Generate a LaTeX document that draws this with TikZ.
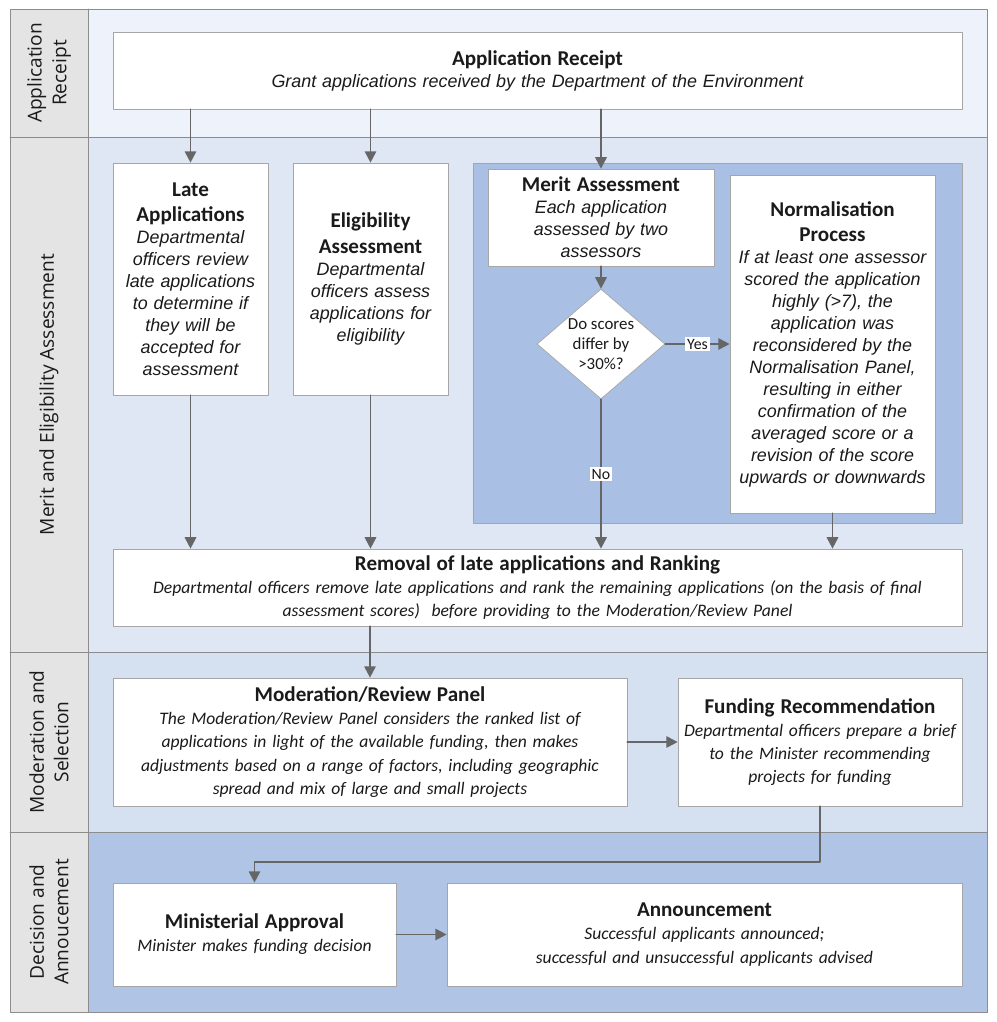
\documentclass[tikz,border=0pt]{standalone}
\usepackage{fontspec}
\setmainfont{Carlito}
\newfontfamily\arialfont{Liberation Sans}
\newfontfamily\lanefont{Open Sans}
\usetikzlibrary{arrows.meta,shapes.geometric}

\definecolor{lanegray}{HTML}{E4E4E4}
\definecolor{laneA}{HTML}{EEF3FB}
\definecolor{laneB}{HTML}{E0E7F4}
\definecolor{laneC}{HTML}{D5E1F1}
\definecolor{laneD}{HTML}{B0C5E5}
\definecolor{meritbg}{HTML}{A9BFE3}
\definecolor{frame}{HTML}{8C8C8C}
\definecolor{boxline}{HTML}{A6A6A6}
\definecolor{arrowgray}{HTML}{666666}
\definecolor{ink}{HTML}{1A1A1A}

\newcommand{\ttlfont}{\bfseries\fontsize{12}{14.5}\selectfont}
\newcommand{\arialit}{\arialfont\itshape\fontsize{10.2}{12.5}\selectfont}
\newcommand{\carlit}{\itshape\fontsize{10}{13.2}\selectfont}

\tikzset{
  stagebox/.style={draw=boxline, fill=white, text=ink, align=center, inner sep=2pt},
  lanelabel/.style={rotate=90, align=center, text=ink, font=\lanefont\fontsize{10.9}{14}\selectfont},
  link/.style={draw=arrowgray, line width=1.1pt, -{Triangle[length=6.5pt,width=6.5pt]}},
  answer/.style={fill=white, inner sep=1pt, text=ink, font=\fontsize{9}{10}\selectfont},
}

\begin{document}
\begin{tikzpicture}[line cap=round, line join=round, x=0.02cm, y=-0.02cm]
                \useasboundingbox (0,0) rectangle (997,1022);
                % swim lanes
                \fill[lanegray] (10,9) rectangle (88,1012);
                \foreach \ya/\yb/\col in {9/137/laneA, 137/652/laneB, 652/832/laneC, 832/1012/laneD}
                    \fill[\col] (88,\ya) rectangle (987,\yb);
                \draw[frame] (10,9) rectangle (987,1012) (88,9) -- (88,1012);
                \foreach \y in {137, 652, 832}
                    \draw[frame] (10,\y) -- (987,\y);
                \node[lanelabel] (laneRcpt) at (49,73) {Application\\Receipt};
                \node[lanelabel] (laneMerit) at (49,394.5) {Merit and Eligibility Assessment};
                \node[lanelabel] (laneMod) at (49,742) {Moderation and\\Selection};
                \node[lanelabel] (laneDec) at (49,922) {Decision and\\Annoucement};
                \draw[boxline, fill=meritbg] (473,163) rectangle (962,523);

                % stages
                \node[stagebox, minimum width=16.98cm, minimum height=1.54cm, text width=16.8cm] (rcpt) at (537.5,70.5)
                    {{\ttlfont Application Receipt\par}{\arialit Grant applications received by the Department of the Environment\par}};
                \node[stagebox, minimum width=3.1cm, minimum height=4.64cm, text width=2.95cm] (late) at (190.5,279)
                    {{\ttlfont Late\\Applications\par}{\arialit Departmental\\officers review\\late applications\\to determine if\\they will be\\accepted for\\assessment\par}};
                \node[stagebox, minimum width=3.1cm, minimum height=4.64cm, text width=2.95cm] (elig) at (370.5,279)
                    {{\ttlfont Eligibility\\Assessment\par}{\arialit Departmental\\officers assess\\applications for\\eligibility\par}};
                \node[stagebox, minimum width=4.52cm, minimum height=1.94cm, text width=4.35cm] (merit) at (601,217.5)
                    {{\ttlfont Merit Assessment\par}{\arialit Each application\\assessed by two\\assessors\par}};
                \node[stagebox, minimum width=4.1cm, minimum height=6.76cm, text width=3.95cm] (norm) at (832.5,344)
                    {{\ttlfont Normalisation\\Process\par}{\arialit If at least one assessor\\scored the application\\highly (>7), the\\application was\\reconsidered by the\\Normalisation Panel,\\resulting in either\\confirmation of the\\averaged score or a\\revision of the score\\upwards or downwards\par}};
                \node[stagebox, shape=diamond, aspect=1.16, inner sep=0pt, minimum width=2.56cm, minimum height=2.2cm,
                      font=\fontsize{9.6}{11.3}\selectfont] (dec) at (601,344) {Do scores\\differ by\\>30\%?};
                \node[stagebox, minimum width=16.98cm, minimum height=1.54cm, text width=16.8cm] (rmv) at (537.5,587.5)
                    {{\ttlfont Removal of late applications and Ranking\par}{\carlit Departmental officers remove late applications and rank the remaining applications (on the basis of final\\assessment scores) \ before providing to the Moderation/Review Panel\par}};
                \node[stagebox, minimum width=10.28cm, minimum height=2.56cm, text width=10.1cm] (mod) at (370,742)
                    {{\ttlfont Moderation/Review Panel\par}{\carlit The Moderation/Review Panel considers the ranked list of\\applications in light of the available funding, then makes\\adjustments based on a range of factors, including geographic\\spread and mix of large and small projects\par}};
                \node[stagebox, minimum width=5.68cm, minimum height=2.56cm, text width=5.5cm] (fund) at (820,742)
                    {{\ttlfont Funding Recommendation\par}{\carlit Departmental officers prepare a brief\\to the Minister recommending\\projects for funding\par}};
                \node[stagebox, minimum width=5.66cm, minimum height=2.06cm, text width=5.5cm] (mini) at (254.5,934.5)
                    {{\ttlfont Ministerial Approval\par}{\carlit Minister makes funding decision\par}};
                \node[stagebox, minimum width=10.3cm, minimum height=2.06cm, text width=10.1cm] (ann) at (704.5,934.5)
                    {{\ttlfont Announcement\par}{\carlit Successful applicants announced;\\successful and unsuccessful applicants advised\par}};

                % flow
                \draw[link] (rcpt.south -| late.north) -- (late.north);
                \draw[link] (rcpt.south -| elig.north) -- (elig.north);
                \draw[link] (rcpt.south -| merit.north) -- (merit.north);
                \draw[link] (merit.south) -- (dec.north);
                \draw[link] (dec.east) -- node[answer] {Yes} (dec.east -| norm.west);
                \draw[link] (dec.south) -- node[answer] {No} (dec.south |- rmv.north);
                \draw[link] (late.south) -- (late.south |- rmv.north);
                \draw[link] (elig.south) -- (elig.south |- rmv.north);
                \draw[link] (norm.south) -- (norm.south |- rmv.north);
                \draw[link] (rmv.south -| mod.north) -- (mod.north);
                \draw[link] (mod.east) -- (mod.east -| fund.west);
                \draw[link] (fund.south) -- ++(0,56) -| (mini.north);
                \draw[link] (mini.east) -- (ann.west);
            \end{tikzpicture}
\end{document}
